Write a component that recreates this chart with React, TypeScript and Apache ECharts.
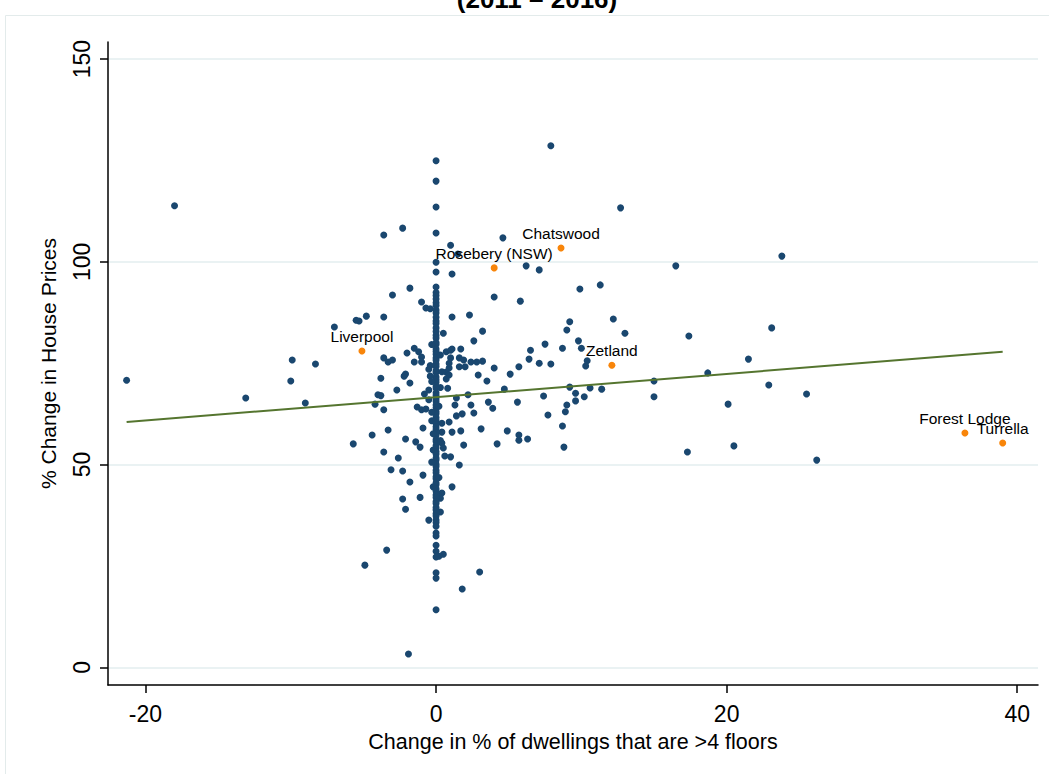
import React, { useEffect, useRef } from "react";
import * as echarts from "echarts";

// Tick values
const xTicks = [-20, 0, 20, 40];
const yTicks = [0, 50, 100, 150];

// Points left of the x = 0 column  [change in % >4 floors, % change in house prices]
const leftPts: [number, number][] = [
  [-18.0, 113.8], [-21.3, 70.8], [-13.1, 66.4], [-10.0, 70.6], [-9.9, 75.8], [-9.0, 65.2],
  [-8.3, 74.8], [-7.0, 83.9], [-5.5, 85.6], [-5.3, 85.4], [-4.8, 86.6], [-3.6, 86.4],
  [-3.6, 106.6], [-2.3, 108.3], [-3.0, 91.8], [-1.8, 93.5], [-1.0, 90.1], [-0.7, 88.6],
  [-0.4, 88.4], [-5.7, 55.1], [-4.4, 57.3], [-3.3, 58.5], [-3.6, 53.1], [-4.2, 64.9],
  [-3.6, 63.5], [-4.0, 67.2], [-3.8, 67.0], [-2.7, 68.4], [-1.8, 70.1], [-2.2, 71.8],
  [-2.1, 72.3], [-3.8, 71.3], [-3.6, 76.3], [-3.3, 75.3], [-3.0, 75.8], [-2.0, 77.5],
  [-1.5, 78.7], [-1.2, 77.8], [-1.0, 76.5], [-1.0, 75.3], [-1.5, 75.3], [-2.1, 56.3],
  [-1.4, 55.6], [-1.1, 54.3], [-2.6, 51.6], [-3.1, 48.7], [-2.3, 48.4], [-1.8, 45.7],
  [-0.9, 47.4], [-2.3, 41.5], [-1.1, 41.9], [-2.1, 39.0], [-0.5, 36.3], [-3.4, 28.9],
  [-4.9, 25.2], [-1.9, 3.3], [-0.8, 67.4], [-0.5, 68.4], [-1.3, 64.2], [-1.0, 63.5],
  [-0.7, 63.7], [-0.9, 59.0], [-0.3, 60.8], [-0.2, 44.5], [-0.2, 53.6],
];

// Points right of the x = 0 column
const rightPts: [number, number][] = [
  [1.0, 104.1], [1.5, 101.9], [1.1, 97.0], [4.6, 105.9], [7.9, 128.6], [12.7, 113.3],
  [6.2, 99.0], [7.1, 98.0], [16.5, 99.0], [23.8, 101.4], [9.9, 93.3], [11.3, 94.3],
  [4.0, 91.3], [5.8, 90.3], [1.1, 86.4], [2.3, 86.9], [9.2, 85.2], [9.0, 83.2],
  [12.2, 85.9], [13.0, 82.4], [3.2, 82.9], [0.5, 82.4], [2.6, 80.5], [17.4, 81.7],
  [23.1, 83.7], [9.8, 80.5], [10.0, 78.7], [7.5, 79.7], [8.7, 78.7], [6.5, 78.2],
  [6.4, 76.0], [7.1, 75.0], [7.9, 74.8], [10.4, 75.6], [10.3, 74.3], [21.5, 76.0],
  [18.7, 72.6], [15.0, 70.6], [15.0, 66.7], [22.9, 69.6], [25.5, 67.4], [20.1, 64.9],
  [20.5, 54.6], [26.2, 51.1], [17.3, 53.1], [1.1, 78.5], [1.7, 78.5], [0.7, 77.8],
  [1.0, 76.3], [1.6, 76.3], [1.9, 75.8], [1.6, 74.1], [2.0, 74.1], [2.4, 75.3],
  [2.8, 75.3], [3.2, 75.5], [0.9, 75.0], [0.9, 73.8], [0.7, 72.8], [0.9, 72.1],
  [0.7, 71.1], [0.8, 68.8], [2.9, 72.1], [4.0, 73.8], [5.1, 72.3], [5.7, 74.1],
  [3.5, 70.6], [4.7, 68.6], [9.2, 69.1], [10.6, 68.9], [11.4, 68.6], [9.6, 67.6],
  [10.2, 66.7], [9.6, 65.7], [7.4, 66.9], [3.6, 65.4], [3.9, 63.9], [5.6, 65.4],
  [9.0, 64.7], [8.9, 63.0], [7.7, 62.2], [3.1, 58.8], [4.9, 58.3], [5.7, 57.3],
  [5.7, 56.0], [6.3, 56.3], [8.7, 59.5], [4.2, 55.1], [8.8, 54.3], [2.2, 67.2],
  [1.4, 66.4], [1.3, 64.7], [2.4, 64.7], [2.6, 62.7], [1.4, 62.0], [1.8, 62.5],
  [0.9, 60.5], [0.4, 58.0], [1.1, 58.0], [1.7, 58.3], [1.9, 54.8], [0.4, 55.3],
  [0.5, 54.1], [0.6, 52.1], [1.0, 51.9], [1.6, 49.9], [1.1, 44.5], [0.4, 43.0],
  [0.3, 41.7], [0.2, 42.0], [0.3, 38.3], [0.5, 27.9], [0.2, 27.4], [3.0, 23.5],
  [1.8, 19.3], [1.0, 78.2],
];

// Suburbs with no change (x = 0): house price change values
const zeroColumnY = [
  124.9, 119.9, 113.5, 107.1, 99.9, 97.5, 93.8, 92.4, 91.7, 90.8, 89.9, 89.2, 88.1, 87.4,
  86.3, 85.4, 84.8, 83.7, 82.8, 81.9, 81.2, 80.1, 79.6, 78.5, 77.9, 77.2, 76.3, 75.7,
  74.8, 74.2, 73.1, 72.7, 71.6, 70.9, 70.3, 69.3, 68.8, 67.7, 67.1, 66.2, 65.6, 64.7,
  64.0, 63.1, 62.5, 61.6, 60.9, 60.2, 59.3, 58.7, 57.7, 57.2, 56.2, 55.7, 54.7, 54.1,
  53.2, 52.6, 51.6, 51.1, 50.1, 49.5, 48.6, 48.0, 47.0, 46.5, 45.5, 45.0, 44.0, 43.4,
  42.5, 41.9, 40.9, 40.4, 39.4, 38.8, 37.9, 37.3, 36.3, 35.7, 34.8, 33.1, 32.4, 30.1,
  28.6, 27.2, 23.3, 22.0, 14.2,
];

// Points hugging the column (small changes)
const nearColumnPts: [number, number][] = [
  [-0.3, 79.6], [0.3, 77.0], [-0.4, 74.4], [0.4, 72.9], [-0.5, 73.5], [-0.4, 71.8],
  [-0.3, 70.5], [0.3, 69.0], [-0.5, 66.0], [0.2, 64.4], [-0.3, 62.9], [0.4, 60.2],
  [-0.2, 57.6], [0.3, 55.9], [-0.3, 50.6], [0.2, 46.8],
];

// Labelled suburbs
const hlNames = ["Liverpool", "Chatswood", "Rosebery (NSW)", "Zetland", "Forest Lodge", "Turrella"];
const hlX = [-5.1, 8.6, 4.0, 12.1, 36.4, 39.0];
const hlY = [78.0, 103.4, 98.5, 74.5, 57.8, 55.3];

// Fitted line end points
const fitX = [-21.3, 39.0];
const fitY = [60.5, 77.8];

const FONT = '"Liberation Sans", Arial, Helvetica, sans-serif';

export default function App() {
  const ref = useRef<HTMLDivElement>(null);
  useEffect(() => {
    if (!ref.current) return;
    const chart = echarts.init(ref.current, undefined, { renderer: "svg" });
    const blue = [
      ...leftPts,
      ...rightPts,
      ...zeroColumnY.map((y) => [0, y]),
      ...nearColumnPts,
    ];
    const option: any = {
      animation: false,
      backgroundColor: "#ffffff",
      textStyle: { fontFamily: FONT },
      graphic: [
        {
          type: "rect",
          z: -10,
          silent: true,
          shape: { x: 5.5, y: 15.5, width: 1200, height: 900 },
          style: { fill: "none", stroke: "#e3ebeb", lineWidth: 1 },
        },
        {
          type: "text",
          x: 537,
          y: 12,
          silent: true,
          style: {
            text: "(2011 – 2016)",
            font: `bold 26px ${FONT}`,
            textAlign: "center",
            textVerticalAlign: "bottom",
            fill: "#000",
          },
        },
      ],
      grid: { left: 108, right: 11, top: 42, bottom: 89, containLabel: false },
      xAxis: {
        type: "value",
        min: -22.58,
        max: 41.43,
        name: "Change in % of dwellings that are >4 floors",
        nameLocation: "middle",
        nameGap: 46,
        nameTextStyle: { fontSize: 21.5, color: "#000", fontFamily: FONT },
        axisLine: { show: true, onZero: false, lineStyle: { color: "#000", width: 1.5 } },
        axisTick: { show: true, length: 8, customValues: xTicks, lineStyle: { color: "#000", width: 1.5 } },
        axisLabel: { customValues: xTicks, fontSize: 23, color: "#000", margin: 17, fontFamily: FONT },
        splitLine: { show: false },
      },
      yAxis: {
        type: "value",
        min: -4.36,
        max: 154.2,
        name: "% Change in House Prices",
        nameLocation: "middle",
        nameGap: 49,
        nameRotate: 90,
        nameTextStyle: { fontSize: 21, color: "#000", fontFamily: FONT },
        axisLine: { show: true, onZero: false, lineStyle: { color: "#000", width: 1.5 } },
        axisTick: { show: true, length: 8, customValues: yTicks, lineStyle: { color: "#000", width: 1.5 } },
        axisLabel: { customValues: yTicks, rotate: 90, fontSize: 23, color: "#000", margin: 15, fontFamily: FONT },
        splitLine: { show: false },
      },
      series: [
        {
          type: "line",
          data: [],
          z: 1,
          silent: true,
          markLine: {
            z: 0,
            silent: true,
            symbol: ["none", "none"],
            label: { show: false },
            lineStyle: { color: "#eaf2f3", width: 2, type: "solid" },
            data: yTicks.map((v) => ({ yAxis: v })),
          },
        },
        {
          type: "scatter",
          z: 2,
          symbol: "circle",
          symbolSize: 7,
          itemStyle: { color: "#1a476f", opacity: 1 },
          data: blue,
        },
        {
          type: "line",
          z: 3,
          showSymbol: false,
          symbol: "none",
          lineStyle: { color: "#55752f", width: 2 },
          data: fitX.map((x, i) => [x, fitY[i]]),
        },
        {
          type: "scatter",
          z: 4,
          symbol: "circle",
          symbolSize: 7,
          itemStyle: { color: "#f8850a", opacity: 1 },
          label: {
            show: true,
            position: "top",
            distance: 3,
            formatter: "{b}",
            fontSize: 15.5,
            color: "#000",
            fontFamily: FONT,
          },
          data: hlNames.map((n, i) => ({ name: n, value: [hlX[i], hlY[i]] })),
        },
      ],
    };
    chart.setOption(option);
    return () => chart.dispose();
  }, []);
  return (
    <div
      ref={ref}
      style={{ position: "absolute", left: 0, top: 0, width: 1049, height: 774, background: "#fff" }}
    />
  );
}
